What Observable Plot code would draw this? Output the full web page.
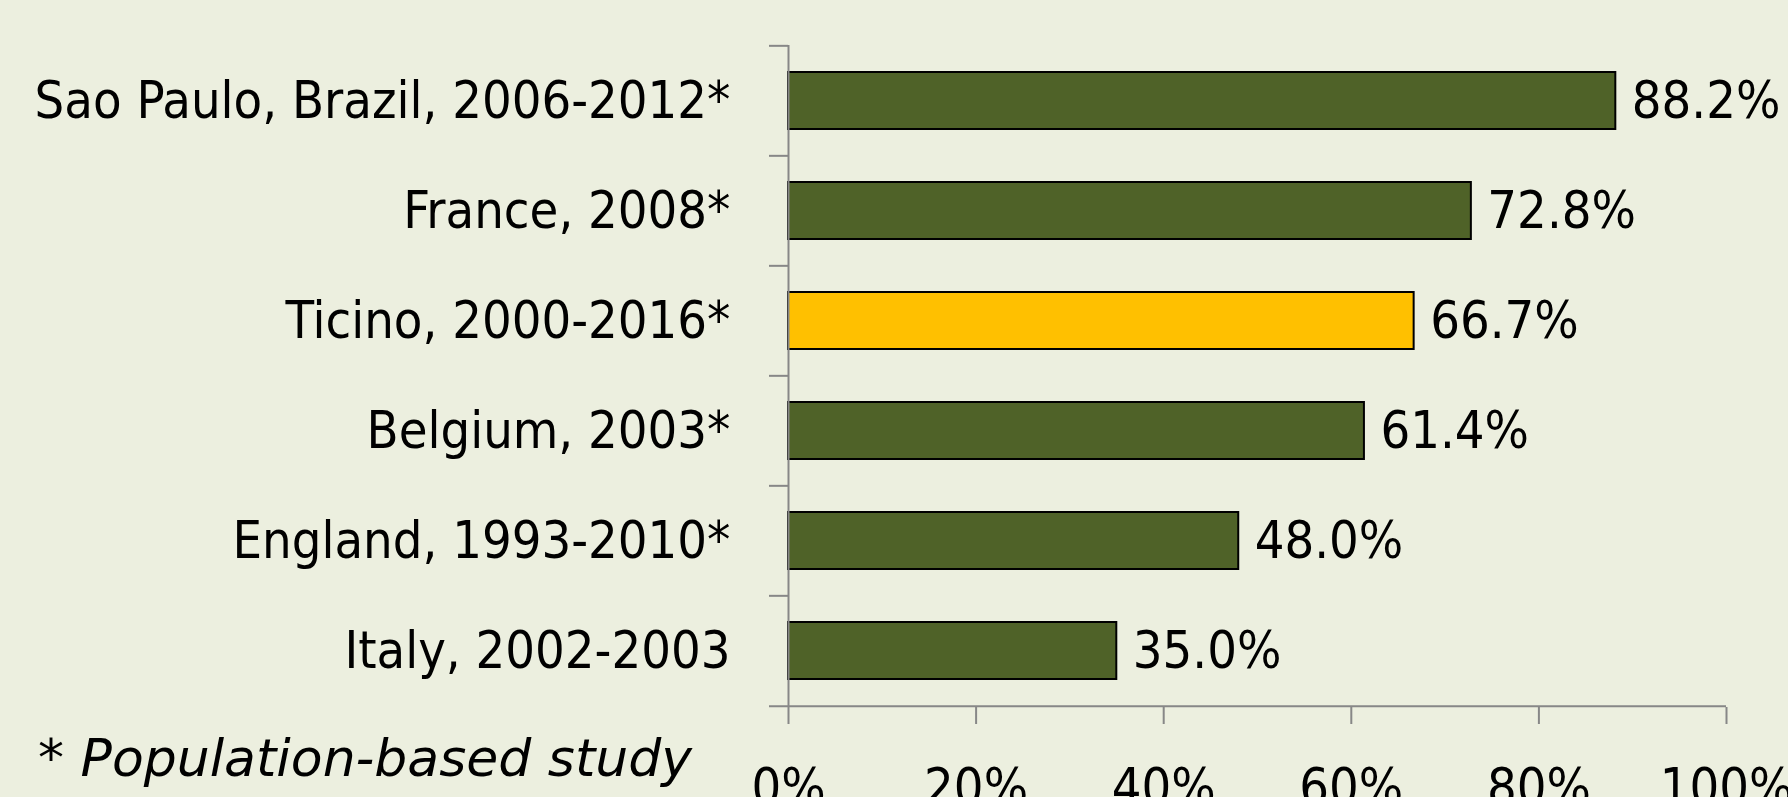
<!DOCTYPE html>
<html>
<head>
<meta charset="utf-8">
<script src="https://cdn.jsdelivr.net/npm/d3@7"></script>
<script src="https://cdn.jsdelivr.net/npm/@observablehq/plot@0.6"></script>
<style>
  html, body { margin: 0; padding: 0; background: #ECEFDF; overflow: hidden; }
  #wrap { position: relative; width: 1788px; height: 797px; }
  #note {
    position: absolute; left: 38px; top: 732px;
    font-family: "DejaVu Sans", sans-serif;
    font-style: italic;
    font-size: 52px; line-height: 1; color: #000; white-space: nowrap;
  }
</style>
</head>
<body>
<div id="wrap"><div id="note">* Population-based study</div></div>
<script>
const categories = ["Sao Paulo, Brazil, 2006-2012*", "France, 2008*", "Ticino, 2000-2016*", "Belgium, 2003*", "England, 1993-2010*", "Italy, 2002-2003"];
const values = [88.2, 72.8, 66.7, 61.4, 48.0, 35.0];
const highlighted = ["Ticino, 2000-2016*"];
const xTicks = [0, 20, 40, 60, 80, 100];

const data = categories.map((c, i) => ({category: c, value: values[i]}));

const W = 1788, H = 797;
const mT = 45, mB = 90, mL = 788, mR = 62;
const step = (H - mT - mB) / categories.length;
const font = `"DejaVu Sans Condensed", "DejaVu Sans", sans-serif`;
const axisGrey = "#878787";
const fs = 52;

const chart = Plot.plot({
  width: W, height: H,
  marginTop: mT, marginBottom: mB, marginLeft: mL, marginRight: mR,
  style: {background: "transparent", fontFamily: font, fontSize: fs + "px", fontStretch: "condensed", color: "#000"},
  x: {domain: [0, 100], label: null},
  y: {domain: categories, paddingInner: 0.48, paddingOuter: 0.24, label: null},
  marks: [
    Plot.barX(data, {
      x: "value", y: "category",
      fill: d => highlighted.includes(d.category) ? "#FFC000" : "#4F6228",
      stroke: "#000", strokeWidth: 2
    }),
    Plot.text(data, {
      x: "value", y: "category", text: d => d.value.toFixed(1) + "%",
      textAnchor: "start", dx: 16, fill: "#000", fontSize: fs
    }),
    Plot.ruleX([0], {stroke: axisGrey, strokeWidth: 2}),
    Plot.ruleY(categories, {y: d => d, x1: 0, x2: 0, insetLeft: -19, dy: -step / 2, stroke: axisGrey, strokeWidth: 2}),
    Plot.ruleY(categories.slice(-1), {y: d => d, x1: 0, x2: 100, insetLeft: -19, dy: step / 2, stroke: axisGrey, strokeWidth: 2}),
    Plot.axisY({tickSize: 0, tickPadding: 58, fill: "#000", fontSize: fs, label: null}),
    Plot.axisX({ticks: xTicks, tickSize: 17, tickFormat: () => "", stroke: axisGrey, strokeWidth: 2, label: null}),
    Plot.axisX({ticks: xTicks, tickSize: 0, tickPadding: 61, tickFormat: d => d + "%", fill: "#000", fontSize: fs, label: null})
  ]
});
document.getElementById("wrap").prepend(chart);
</script>
</body>
</html>
